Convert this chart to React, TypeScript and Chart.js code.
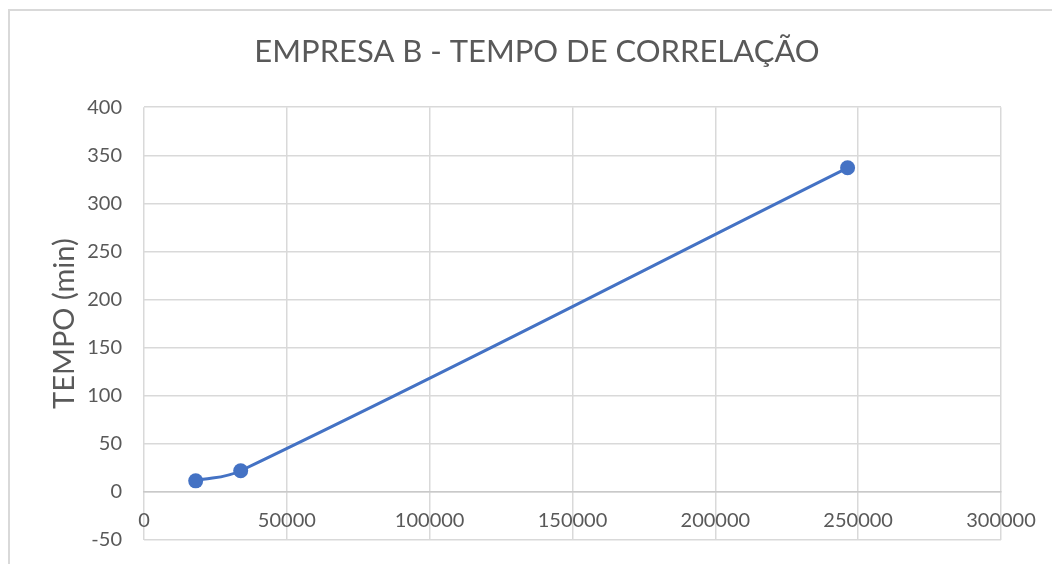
import React, { useEffect, useRef } from "react";
import { Chart, registerables } from "chart.js";

Chart.register(...registerables);

const chartTitle = "EMPRESA B - TEMPO DE CORRELAÇÃO";
const yAxisTitle = "TEMPO (min)";
const xValues = [18100, 33850, 246300];
const yValues = [11.5, 22, 337];
const xTicks = [0, 50000, 100000, 150000, 200000, 250000, 300000];
const yTicks = [-50, 0, 50, 100, 150, 200, 250, 300, 350, 400];

const TEXT = "#595959";
const GRID = "#d9d9d9";
const FONT = "Lato, 'Open Sans', sans-serif";

export default function App() {
  const ref = useRef<HTMLCanvasElement | null>(null);

  useEffect(() => {
    if (!ref.current) return;
    const points = xValues.map((x, i) => ({ x, y: yValues[i] }));
    const chart = new Chart(ref.current, {
      type: "scatter",
      data: {
        datasets: [
          {
            data: points,
            showLine: true,
            borderColor: "#4472c4",
            backgroundColor: "#4472c4",
            borderWidth: 3,
            pointRadius: 7.5,
            pointHoverRadius: 7.5,
            pointBorderWidth: 0,
            tension: 0.4,
          },
        ],
      },
      options: {
        animation: false,
        responsive: false,
        layout: { padding: { left: 12, right: 0, top: 0, bottom: 24 } },
        plugins: {
          legend: { display: false },
          tooltip: { enabled: false },
          title: {
            display: true,
            text: chartTitle,
            color: TEXT,
            font: { family: FONT, size: 31, weight: "normal" },
            padding: { top: 22, bottom: 37 },
          },
        },
        scales: {
          x: {
            type: "linear",
            position: { y: 0 } as any,
            min: xTicks[0],
            max: xTicks[xTicks.length - 1],
            afterBuildTicks: (scale: any) => {
              scale.ticks = xTicks.map((v) => ({ value: v }));
            },
            afterFit: (scale: any) => {
              scale.height = 0;
            },
            ticks: {
              color: TEXT,
              font: { family: FONT, size: 20 },
              padding: 0,
              maxRotation: 0,
              autoSkip: false,
              callback: (v: any) => String(v),
            },
            grid: {
              color: GRID,
              lineWidth: 1.5,
              drawTicks: true,
              tickLength: 17,
              tickColor: "rgba(0,0,0,0)",
            },
            border: { display: true, color: "#c9c9c9", width: 1.5 },
          },
          y: {
            type: "linear",
            position: "left",
            min: yTicks[0],
            max: yTicks[yTicks.length - 1],
            afterBuildTicks: (scale: any) => {
              scale.ticks = yTicks.map((v) => ({ value: v }));
            },
            afterFit: (scale: any) => {
              scale.width = 122;
            },
            ticks: {
              color: TEXT,
              font: { family: FONT, size: 20 },
              padding: 0,
              autoSkip: false,
              callback: (v: any) => String(v),
            },
            grid: {
              color: GRID,
              lineWidth: 1.5,
              drawTicks: true,
              tickLength: 22,
              tickColor: "rgba(0,0,0,0)",
            },
            border: { display: false },
            title: {
              display: true,
              text: yAxisTitle,
              color: TEXT,
              font: { family: FONT, size: 29 },
              padding: { top: 25, bottom: 0 },
            },
          },
          yRight: {
            type: "linear",
            position: "right",
            display: true,
            min: 0,
            max: 1,
            grid: { display: false, drawTicks: false },
            border: { display: false },
            ticks: { display: false },
            afterFit: (scale: any) => {
              scale.width = 51;
            },
          },
        },
      },
    });
    return () => chart.destroy();
  }, []);

  return (
    <div
      style={{
        position: "fixed",
        left: 8,
        top: 9,
        width: 1044,
        height: 555,
        borderLeft: "2px solid #d9d9d9",
        borderTop: "2px solid #d9d9d9",
        background: "#fff",
      }}
    >
      <canvas ref={ref} width={1042} height={553} style={{ display: "block" }} />
    </div>
  );
}
